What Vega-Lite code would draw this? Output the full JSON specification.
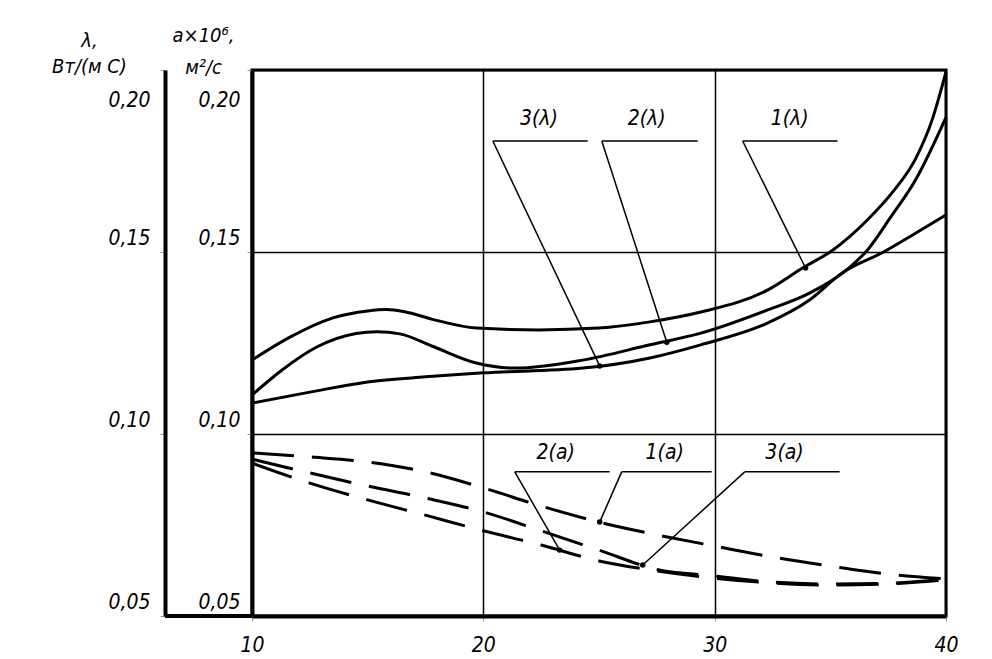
{
  "$schema": "https://vega.github.io/schema/vega-lite/v6.json",
  "width": 694,
  "height": 546,
  "autosize": "none",
  "padding": {"left": 252, "top": 70, "right": 46, "bottom": 43},
  "background": "white",
  "config": {
    "font": "DejaVu Sans Condensed",
    "view": {"stroke": "black", "strokeWidth": 3},
    "axis": {
      "domainColor": "black", "domainWidth": 4,
      "gridColor": "black", "gridWidth": 1.5, "gridOpacity": 1,
      "labelFont": "DejaVu Sans Condensed", "labelFontStyle": "italic", "labelFontSize": 21, "labelColor": "black",
      "tickColor": "#999999", "tickSize": 5, "tickWidth": 1,
      "titleFont": "DejaVu Sans Condensed", "titleFontStyle": "italic", "titleFontWeight": "normal", "titleFontSize": 20, "titleColor": "black"
    }
  },
  "datasets": {
    "lam": [
      {"x": 10, "y": 0.1203, "s": "1"}, {"x": 11.64, "y": 0.1266, "s": "1"}, {"x": 13.5, "y": 0.1319, "s": "1"}, {"x": 15, "y": 0.1338, "s": "1"}, {"x": 15.8, "y": 0.1342, "s": "1"}, {"x": 16.6, "y": 0.1336, "s": "1"}, {"x": 17.8, "y": 0.1315, "s": "1"}, {"x": 19.7, "y": 0.1291, "s": "1"}, {"x": 22.4, "y": 0.1286, "s": "1"}, {"x": 25, "y": 0.1291, "s": "1"}, {"x": 27.2, "y": 0.1308, "s": "1"}, {"x": 29.4, "y": 0.1335, "s": "1"}, {"x": 32.3, "y": 0.1396, "s": "1"}, {"x": 33.8, "y": 0.1456, "s": "1"}, {"x": 35.1, "y": 0.1505, "s": "1"}, {"x": 36.6, "y": 0.1588, "s": "1"}, {"x": 37.7, "y": 0.1665, "s": "1"}, {"x": 38.7, "y": 0.1758, "s": "1"}, {"x": 39.4, "y": 0.1863, "s": "1"}, {"x": 40, "y": 0.1995, "s": "1"},
      {"x": 10, "y": 0.1107, "s": "2"}, {"x": 11.3, "y": 0.1176, "s": "2"}, {"x": 12.8, "y": 0.1239, "s": "2"}, {"x": 14.5, "y": 0.1276, "s": "2"}, {"x": 15.4, "y": 0.1281, "s": "2"}, {"x": 16.4, "y": 0.1275, "s": "2"}, {"x": 17.8, "y": 0.1241, "s": "2"}, {"x": 19.7, "y": 0.1195, "s": "2"}, {"x": 21.4, "y": 0.1181, "s": "2"}, {"x": 24.3, "y": 0.1203, "s": "2"}, {"x": 27.2, "y": 0.1245, "s": "2"}, {"x": 29.4, "y": 0.1277, "s": "2"}, {"x": 32.3, "y": 0.1341, "s": "2"}, {"x": 34.1, "y": 0.1387, "s": "2"}, {"x": 35.8, "y": 0.1456, "s": "2"}, {"x": 36.6, "y": 0.1505, "s": "2"}, {"x": 37.6, "y": 0.1595, "s": "2"}, {"x": 38.7, "y": 0.17, "s": "2"}, {"x": 40, "y": 0.187, "s": "2"},
      {"x": 10, "y": 0.1085, "s": "3"}, {"x": 12.5, "y": 0.1115, "s": "3"}, {"x": 15, "y": 0.1143, "s": "3"}, {"x": 17.5, "y": 0.1157, "s": "3"}, {"x": 20, "y": 0.1168, "s": "3"}, {"x": 24.3, "y": 0.1181, "s": "3"}, {"x": 27.2, "y": 0.1209, "s": "3"}, {"x": 29.4, "y": 0.1245, "s": "3"}, {"x": 32.3, "y": 0.1305, "s": "3"}, {"x": 34.1, "y": 0.1368, "s": "3"}, {"x": 35.5, "y": 0.1442, "s": "3"}, {"x": 37.3, "y": 0.15, "s": "3"}, {"x": 38.7, "y": 0.1552, "s": "3"}, {"x": 40, "y": 0.1602, "s": "3"}
    ],
    "a": [
      {"x": 10, "y": 0.0948, "s": "1"}, {"x": 12.5, "y": 0.0937, "s": "1"}, {"x": 15, "y": 0.0923, "s": "1"}, {"x": 17.5, "y": 0.0896, "s": "1"}, {"x": 20, "y": 0.0852, "s": "1"}, {"x": 22.5, "y": 0.0802, "s": "1"}, {"x": 25, "y": 0.0758, "s": "1"}, {"x": 27.5, "y": 0.0723, "s": "1"}, {"x": 30, "y": 0.0692, "s": "1"}, {"x": 32.5, "y": 0.0662, "s": "1"}, {"x": 35, "y": 0.0637, "s": "1"}, {"x": 37.5, "y": 0.0615, "s": "1"}, {"x": 40, "y": 0.0602, "s": "1"},
      {"x": 10, "y": 0.092, "s": "2"}, {"x": 12.5, "y": 0.0865, "s": "2"}, {"x": 15, "y": 0.0819, "s": "2"}, {"x": 17.5, "y": 0.0777, "s": "2"}, {"x": 20, "y": 0.0734, "s": "2"}, {"x": 22.5, "y": 0.0695, "s": "2"}, {"x": 25, "y": 0.0651, "s": "2"}, {"x": 27.5, "y": 0.0624, "s": "2"}, {"x": 30, "y": 0.0604, "s": "2"}, {"x": 32.5, "y": 0.0591, "s": "2"}, {"x": 35, "y": 0.0585, "s": "2"}, {"x": 37.5, "y": 0.0588, "s": "2"}, {"x": 40, "y": 0.0599, "s": "2"},
      {"x": 10, "y": 0.0931, "s": "3"}, {"x": 12.5, "y": 0.0893, "s": "3"}, {"x": 15, "y": 0.0857, "s": "3"}, {"x": 17.5, "y": 0.0824, "s": "3"}, {"x": 20, "y": 0.0786, "s": "3"}, {"x": 22.5, "y": 0.0734, "s": "3"}, {"x": 25, "y": 0.0681, "s": "3"}, {"x": 27.5, "y": 0.0628, "s": "3"}, {"x": 30, "y": 0.061, "s": "3"}, {"x": 32.5, "y": 0.0593, "s": "3"}, {"x": 35, "y": 0.0588, "s": "3"}, {"x": 37.5, "y": 0.059, "s": "3"}, {"x": 40, "y": 0.0602, "s": "3"}
    ],
    "leaders": [
      {"x": 20.41, "y": 0.1805, "x2": 24.51, "y2": 0.1805}, {"x": 20.41, "y": 0.1805, "x2": 25.03, "y2": 0.1187},
      {"x": 25.12, "y": 0.1805, "x2": 29.27, "y2": 0.1805}, {"x": 25.12, "y": 0.1805, "x2": 27.93, "y2": 0.1252},
      {"x": 31.21, "y": 0.1805, "x2": 35.31, "y2": 0.1805}, {"x": 31.21, "y": 0.1805, "x2": 33.93, "y2": 0.1456},
      {"x": 21.36, "y": 0.0896, "x2": 25.46, "y2": 0.0896}, {"x": 21.36, "y": 0.0896, "x2": 23.3, "y2": 0.0681},
      {"x": 25.98, "y": 0.0896, "x2": 29.87, "y2": 0.0896}, {"x": 25.98, "y": 0.0896, "x2": 25.03, "y2": 0.0758},
      {"x": 31.3, "y": 0.0896, "x2": 35.4, "y2": 0.0896}, {"x": 31.3, "y": 0.0896, "x2": 26.89, "y2": 0.064}
    ],
    "tips": [
      {"x": 25.03, "y": 0.1187}, {"x": 27.93, "y": 0.1252}, {"x": 33.93, "y": 0.1456},
      {"x": 23.3, "y": 0.0681}, {"x": 25.03, "y": 0.0758}, {"x": 26.89, "y": 0.064}
    ],
    "labels": [
      {"x": 22.4, "y": 0.1865, "t": "3(λ)"}, {"x": 27.06, "y": 0.1865, "t": "2(λ)"}, {"x": 33.24, "y": 0.1865, "t": "1(λ)"},
      {"x": 23.13, "y": 0.0948, "t": "2(а)"}, {"x": 27.84, "y": 0.0948, "t": "1(а)"}, {"x": 33.02, "y": 0.0948, "t": "3(а)"}
    ]
  },
  "layer": [
    {
      "layer": [
        {
          "data": {"name": "lam"},
          "mark": {"type": "line", "color": "black", "strokeWidth": 3, "interpolate": "monotone"},
          "encoding": {
            "x": {"field": "x", "type": "quantitative", "title": null, "scale": {"domain": [10, 40], "nice": false},
                  "axis": {"values": [10, 20, 30, 40], "grid": true, "labelPadding": 13, "format": "d", "labelFlush": false}},
            "y": {"field": "y", "type": "quantitative", "scale": {"domain": [0.05, 0.2], "nice": false, "zero": false},
                  "axis": {"orient": "left", "offset": 0, "values": [0.05, 0.1, 0.15, 0.2], "grid": true,
                           "title": ["а×10⁶,", "м²/с"],
                           "labelExpr": "replace(format(datum.value, '.2f'), '.', ',')",
                           "labelPadding": 7, "labelBaseline": "middle",
                           "labelOffset": {"condition": {"test": "datum.value > 0.19", "value": 30}, "value": -14},
                           "titleAngle": 0, "titleAlign": "center", "titleBaseline": "bottom", "titleX": -49, "titleY": -25, "titleLineHeight": 32}},
            "detail": {"field": "s"}
          }
        },
        {
          "data": {"name": "a"},
          "mark": {"type": "line", "color": "black", "strokeWidth": 3, "strokeDash": [42, 18], "interpolate": "monotone"},
          "encoding": {
            "x": {"field": "x", "type": "quantitative", "title": null, "scale": {"domain": [10, 40], "nice": false}},
            "y": {"field": "y", "type": "quantitative", "scale": {"domain": [0.05, 0.2], "nice": false, "zero": false}},
            "detail": {"field": "s"}
          }
        },
        {
          "data": {"name": "leaders"},
          "mark": {"type": "rule", "color": "black", "strokeWidth": 1.5},
          "encoding": {
            "x": {"field": "x", "type": "quantitative", "title": null, "scale": {"domain": [10, 40], "nice": false}},
            "y": {"field": "y", "type": "quantitative", "scale": {"domain": [0.05, 0.2], "nice": false, "zero": false}},
            "x2": {"field": "x2"},
            "y2": {"field": "y2"}
          }
        },
        {
          "data": {"name": "tips"},
          "mark": {"type": "point", "filled": true, "color": "black", "size": 30, "opacity": 1},
          "encoding": {
            "x": {"field": "x", "type": "quantitative", "title": null, "scale": {"domain": [10, 40], "nice": false}},
            "y": {"field": "y", "type": "quantitative", "scale": {"domain": [0.05, 0.2], "nice": false, "zero": false}}
          }
        },
        {
          "data": {"name": "labels"},
          "mark": {"type": "text", "font": "DejaVu Sans Condensed", "fontStyle": "italic", "fontSize": 21, "color": "black", "align": "center", "baseline": "middle"},
          "encoding": {
            "x": {"field": "x", "type": "quantitative", "title": null, "scale": {"domain": [10, 40], "nice": false}},
            "y": {"field": "y", "type": "quantitative", "scale": {"domain": [0.05, 0.2], "nice": false, "zero": false}},
            "text": {"field": "t"}
          }
        }
      ]
    },
    {
      "data": {"values": [{}]},
      "mark": {"type": "rule", "color": "black", "strokeWidth": 4, "clip": false},
      "encoding": {
        "x": {"datum": 6.24, "type": "quantitative", "title": null, "scale": {"domain": [10, 40], "nice": false}},
        "x2": {"datum": 10},
        "y": {"datum": 0.05, "type": "quantitative", "scale": {"domain": [0.05, 0.2], "nice": false, "zero": false},
              "axis": {"orient": "left", "offset": 87, "values": [0.05, 0.1, 0.15, 0.2], "grid": false,
                       "title": ["λ,", "Вт/(м С)"],
                       "labelExpr": "replace(format(datum.value, '.2f'), '.', ',')",
                       "labelPadding": 10, "labelBaseline": "middle",
                       "labelOffset": {"condition": {"test": "datum.value > 0.19", "value": 30}, "value": -14},
                       "titleAngle": 0, "titleAlign": "center", "titleBaseline": "bottom", "titleX": -76, "titleY": -20, "titleLineHeight": 26}}
      }
    }
  ],
  "resolve": {"scale": {"y": "independent"}}
}
